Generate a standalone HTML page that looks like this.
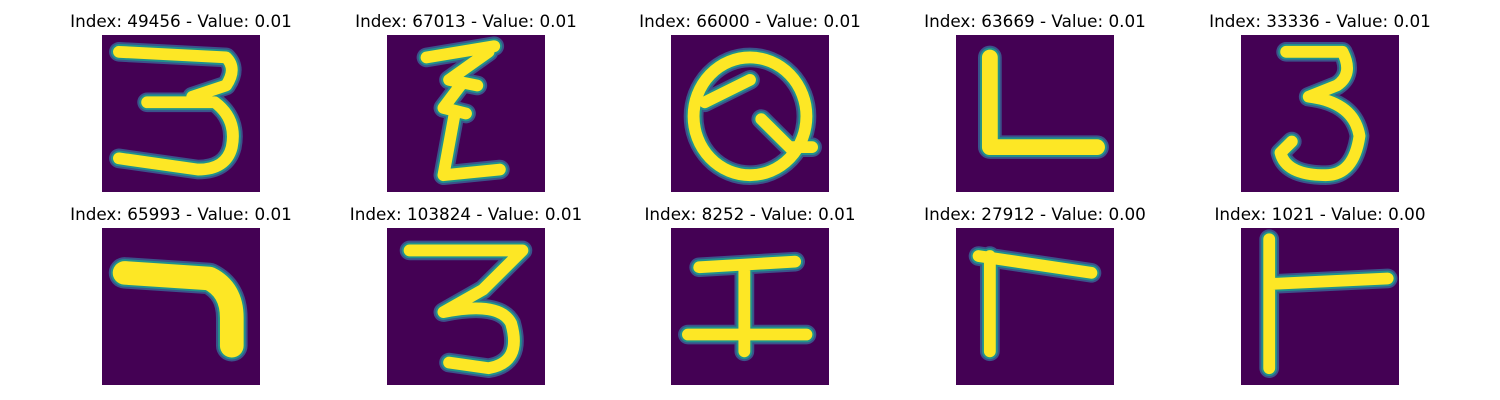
<!DOCTYPE html>
<html><head><meta charset="utf-8">
<style>
html,body{margin:0;padding:0;background:#fff;}
#wrap{position:relative;width:1500px;height:400px;overflow:hidden;font-family:"DejaVu Sans","Liberation Sans",sans-serif;}
.title{position:absolute;font-size:16.8px;color:#000;text-align:center;width:300px;white-space:nowrap;}
svg.img{position:absolute;}
</style></head>
<body>
<div id="wrap"></div>
<script>
const indices=[49456,67013,66000,63669,33336,65993,103824,8252,27912,1021];
const values=[0.01,0.01,0.01,0.01,0.01,0.01,0.01,0.01,0.00,0.00];
const glyphPaths=[
"M3,3 L22,4 Q24,6 22,9 L16,11 M8,12 L20,12 Q24,15 23,20 Q22,24 17,24 L3,22",
"M7,4 L19,2 M18,3 L11,8 L16,9 M13,9 L10,13 L14,14 M12,14 L10,25 L20,24",
"M6,12 L14,8",
"M6,4 L6,20 L25,20",
"M8,3 L18,3 Q20,7 17,9 L12,11 Q20,12 21,18 Q20,25 15,25 Q8,25 7,21 L9,19",
"M4,8 L19,9 Q23,11 23,16 L23,21",
"M4,4 L24,4 L17,11 L10,15 Q20,13 22,17 Q24,24 18,25 L11,24",
"M5,7 L22,6 M13,7 L13,22 M3,19 L24,19",
"M6,5 L6,22 M4,5 L24,8",
"M5,2 L5,25 M5,10 L26,9"
];
const colX=[102,387,671,956,1241];
const rowY=[35,228];
const wrap=document.getElementById('wrap');
const NS='http://www.w3.org/2000/svg';
for(let i=0;i<indices.length;i++){
  const x=colX[i%5], y=rowY[Math.floor(i/5)];
  const t=document.createElement('div');
  t.className='title';
  
  
  t.style.left=(x+79-150)+'px'; t.style.top=(y-24)+'px';
  t.textContent='Index: '+indices[i]+' - Value: '+values[i].toFixed(2);
  wrap.appendChild(t);
  const s=document.createElementNS(NS,'svg');
  s.setAttribute('class','img');
  
  
  s.setAttribute('viewBox','0 0 28 28');
  s.setAttribute('width','158');s.setAttribute('height','157');
  s.setAttribute('preserveAspectRatio','none');
  s.style.left=x+'px';s.style.top=y+'px';
  const bg=document.createElementNS(NS,'rect');
  bg.setAttribute('width','28');bg.setAttribute('height','28');bg.setAttribute('fill','#440154');
  s.appendChild(bg);
  const thick=(i===5)?4.2:(i===3?2.8:2.1);
  const layers=[[thick+1.4,'#3b528b'],[thick+0.7,'#21918c'],[thick,'#fde725']];
  for(const [w,c] of layers){
    const p=document.createElementNS(NS,'path');
    p.setAttribute('d',glyphPaths[i]);
    p.setAttribute('fill','none');p.setAttribute('stroke',c);
    p.setAttribute('stroke-width',w);p.setAttribute('stroke-linecap','round');p.setAttribute('stroke-linejoin','round');
    s.appendChild(p);
    if(i===2){
      const e=document.createElementNS(NS,'ellipse');
      e.setAttribute('cx','14');e.setAttribute('cy','14.5');e.setAttribute('rx','10');e.setAttribute('ry','10.5');
      e.setAttribute('fill','none');e.setAttribute('stroke',c);e.setAttribute('stroke-width',w);
      s.appendChild(e);
      const t2=document.createElementNS(NS,'path');
      t2.setAttribute('d','M16,15 L21,20 L25,20');
      t2.setAttribute('fill','none');t2.setAttribute('stroke',c);t2.setAttribute('stroke-width',w);t2.setAttribute('stroke-linecap','round');
      s.appendChild(t2);
    }
  }
  wrap.appendChild(s);
}
</script>
</body></html>
